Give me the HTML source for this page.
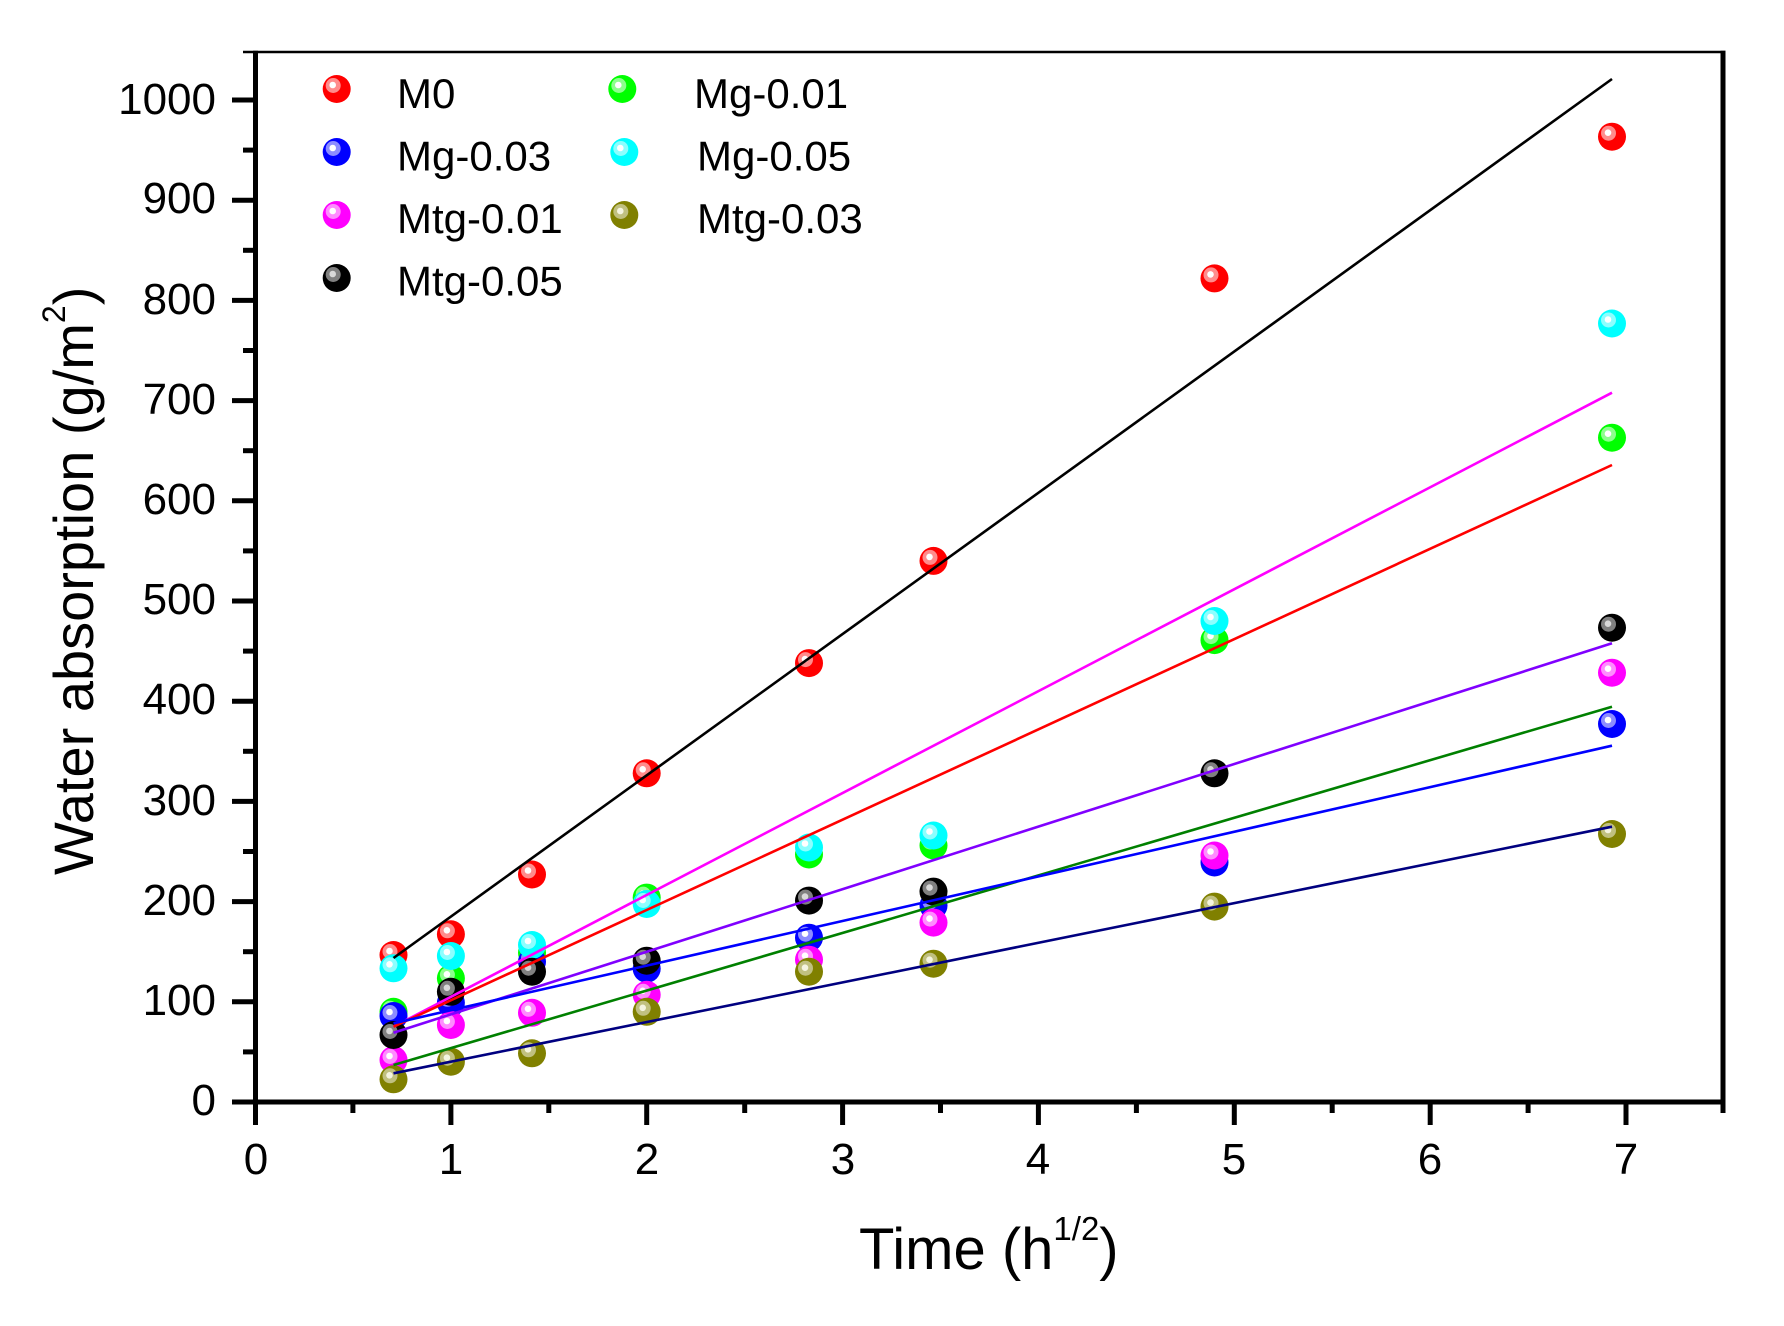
<!DOCTYPE html>
<html>
<head>
<meta charset="utf-8">
<style>
  html,body{margin:0;padding:0;background:#fff;}
  svg{display:block;}
  text{font-family:"Liberation Sans",Arial,sans-serif;fill:#000;}
</style>
</head>
<body>
<svg width="1784" height="1326" viewBox="0 0 1784 1326" xmlns="http://www.w3.org/2000/svg">
<defs>
  <g id="m-red"><circle r="14" fill="#ff0000"/><circle cx="-3.5" cy="-3.5" r="7.5" fill="#ff8c8c"/><circle cx="-4" cy="-4" r="3.3" fill="#ffffff"/></g>
  <g id="m-green"><circle r="14" fill="#00ff00"/><circle cx="-3.5" cy="-3.5" r="7.5" fill="#8cff8c"/><circle cx="-4" cy="-4" r="3.3" fill="#ffffff"/></g>
  <g id="m-blue"><circle r="14" fill="#0000ff"/><circle cx="-3.5" cy="-3.5" r="7.5" fill="#8c8cff"/><circle cx="-4" cy="-4" r="3.3" fill="#ffffff"/></g>
  <g id="m-cyan"><circle r="14" fill="#00ffff"/><circle cx="-3.5" cy="-3.5" r="7.5" fill="#8cffff"/><circle cx="-4" cy="-4" r="3.3" fill="#ffffff"/></g>
  <g id="m-mag"><circle r="14" fill="#ff00ff"/><circle cx="-3.5" cy="-3.5" r="7.5" fill="#ff8cff"/><circle cx="-4" cy="-4" r="3.3" fill="#ffffff"/></g>
  <g id="m-olive"><circle r="14" fill="#808000"/><circle cx="-3.5" cy="-3.5" r="7.5" fill="#c0c080"/><circle cx="-4" cy="-4" r="3.3" fill="#f4f4e0"/></g>
  <g id="m-black"><circle r="14" fill="#000000"/><circle cx="-3.5" cy="-3.5" r="7.5" fill="#808080"/><circle cx="-4" cy="-4" r="3.3" fill="#d8d8d8"/></g>
</defs>

<!-- Axes frame -->
<g stroke="#000" fill="none" stroke-linecap="butt">
  <line x1="243" y1="52" x2="1725.5" y2="52" stroke-width="2.5"/>
  <line x1="255.5" y1="50.8" x2="255.5" y2="1104.5" stroke-width="5"/>
  <line x1="253" y1="1102" x2="1725.5" y2="1102" stroke-width="5"/>
  <line x1="1723" y1="50.8" x2="1723" y2="1113" stroke-width="5"/>
  <g stroke-width="5">
    <line x1="232" y1="1102" x2="255" y2="1102"/>
    <line x1="232" y1="1001.8" x2="255" y2="1001.8"/>
    <line x1="232" y1="901.6" x2="255" y2="901.6"/>
    <line x1="232" y1="801.4" x2="255" y2="801.4"/>
    <line x1="232" y1="701.2" x2="255" y2="701.2"/>
    <line x1="232" y1="601" x2="255" y2="601"/>
    <line x1="232" y1="500.8" x2="255" y2="500.8"/>
    <line x1="232" y1="400.6" x2="255" y2="400.6"/>
    <line x1="232" y1="300.4" x2="255" y2="300.4"/>
    <line x1="232" y1="200.2" x2="255" y2="200.2"/>
    <line x1="232" y1="100" x2="255" y2="100"/>
  </g>
  <g stroke-width="5">
    <line x1="243" y1="1051.9" x2="255" y2="1051.9"/>
    <line x1="243" y1="951.7" x2="255" y2="951.7"/>
    <line x1="243" y1="851.5" x2="255" y2="851.5"/>
    <line x1="243" y1="751.3" x2="255" y2="751.3"/>
    <line x1="243" y1="651.1" x2="255" y2="651.1"/>
    <line x1="243" y1="550.9" x2="255" y2="550.9"/>
    <line x1="243" y1="450.7" x2="255" y2="450.7"/>
    <line x1="243" y1="350.5" x2="255" y2="350.5"/>
    <line x1="243" y1="250.3" x2="255" y2="250.3"/>
    <line x1="243" y1="150.1" x2="255" y2="150.1"/>
  </g>
  <g stroke-width="5">
    <line x1="255.5" y1="1102" x2="255.5" y2="1125"/>
    <line x1="450.9" y1="1102" x2="450.9" y2="1125"/>
    <line x1="646.7" y1="1102" x2="646.7" y2="1125"/>
    <line x1="842.6" y1="1102" x2="842.6" y2="1125"/>
    <line x1="1038.4" y1="1102" x2="1038.4" y2="1125"/>
    <line x1="1234.3" y1="1102" x2="1234.3" y2="1125"/>
    <line x1="1430.2" y1="1102" x2="1430.2" y2="1125"/>
    <line x1="1626" y1="1102" x2="1626" y2="1125"/>
  </g>
  <g stroke-width="5">
    <line x1="352.9" y1="1102" x2="352.9" y2="1113"/>
    <line x1="548.8" y1="1102" x2="548.8" y2="1113"/>
    <line x1="744.7" y1="1102" x2="744.7" y2="1113"/>
    <line x1="940.5" y1="1102" x2="940.5" y2="1113"/>
    <line x1="1136.4" y1="1102" x2="1136.4" y2="1113"/>
    <line x1="1332.2" y1="1102" x2="1332.2" y2="1113"/>
    <line x1="1528.1" y1="1102" x2="1528.1" y2="1113"/>
  </g>
</g>

<!-- Y tick labels -->
<g font-size="44" text-anchor="end">
  <text x="216" y="1115">0</text>
  <text x="216" y="1015">100</text>
  <text x="216" y="915">200</text>
  <text x="216" y="815">300</text>
  <text x="216" y="714">400</text>
  <text x="216" y="614">500</text>
  <text x="216" y="514">600</text>
  <text x="216" y="414">700</text>
  <text x="216" y="314">800</text>
  <text x="216" y="213">900</text>
  <text x="216" y="114">1000</text>
</g>
<!-- X tick labels -->
<g font-size="44" text-anchor="middle">
  <text x="256" y="1174">0</text>
  <text x="451" y="1174">1</text>
  <text x="647" y="1174">2</text>
  <text x="843" y="1174">3</text>
  <text x="1038" y="1174">4</text>
  <text x="1234" y="1174">5</text>
  <text x="1430" y="1174">6</text>
  <text x="1626" y="1174">7</text>
</g>

<!-- Axis titles -->
<text x="859" y="1269" font-size="58">Time (h<tspan font-size="33" dy="-29">1/2</tspan><tspan dy="29">)</tspan></text>
<text transform="translate(93,875) rotate(-90)" font-size="56">Water absorption (g/m<tspan font-size="32" dy="-28">2</tspan><tspan dy="28">)</tspan></text>

<!-- Data points -->
<g>
  <use href="#m-red" x="393.5" y="955.0"/>
  <use href="#m-red" x="450.9" y="934.3"/>
  <use href="#m-red" x="532.0" y="874.5"/>
  <use href="#m-red" x="646.7" y="773.3"/>
  <use href="#m-red" x="809.0" y="663.1"/>
  <use href="#m-red" x="933.5" y="560.9"/>
  <use href="#m-red" x="1214.5" y="278.4"/>
  <use href="#m-red" x="1612.0" y="136.7"/>
  <use href="#m-green" x="393.5" y="1011.8"/>
  <use href="#m-green" x="450.9" y="978.3"/>
  <use href="#m-green" x="532.0" y="952.7"/>
  <use href="#m-green" x="646.7" y="897.6"/>
  <use href="#m-green" x="809.0" y="854.5"/>
  <use href="#m-green" x="933.5" y="845.5"/>
  <use href="#m-green" x="1214.5" y="640.1"/>
  <use href="#m-green" x="1612.0" y="437.7"/>
  <use href="#m-blue" x="393.5" y="1016.0"/>
  <use href="#m-blue" x="450.9" y="1002.8"/>
  <use href="#m-blue" x="532.0" y="961.7"/>
  <use href="#m-blue" x="646.7" y="968.7"/>
  <use href="#m-blue" x="809.0" y="937.7"/>
  <use href="#m-blue" x="933.5" y="905.6"/>
  <use href="#m-blue" x="1214.5" y="862.5"/>
  <use href="#m-blue" x="1612.0" y="724.0"/>
  <use href="#m-cyan" x="393.5" y="968.3"/>
  <use href="#m-cyan" x="450.9" y="956.0"/>
  <use href="#m-cyan" x="532.0" y="945.0"/>
  <use href="#m-cyan" x="646.7" y="904.0"/>
  <use href="#m-cyan" x="809.0" y="847.5"/>
  <use href="#m-cyan" x="933.5" y="835.5"/>
  <use href="#m-cyan" x="1214.5" y="621.0"/>
  <use href="#m-cyan" x="1612.0" y="323.5"/>
  <use href="#m-mag" x="393.5" y="1060.0"/>
  <use href="#m-mag" x="450.9" y="1025.0"/>
  <use href="#m-mag" x="532.0" y="1012.8"/>
  <use href="#m-mag" x="646.7" y="994.8"/>
  <use href="#m-mag" x="809.0" y="959.7"/>
  <use href="#m-mag" x="933.5" y="922.6"/>
  <use href="#m-mag" x="1214.5" y="855.5"/>
  <use href="#m-mag" x="1612.0" y="672.7"/>
  <use href="#m-olive" x="393.5" y="1079.3"/>
  <use href="#m-olive" x="450.9" y="1061.7"/>
  <use href="#m-olive" x="532.0" y="1053.3"/>
  <use href="#m-olive" x="646.7" y="1011.8"/>
  <use href="#m-olive" x="809.0" y="971.7"/>
  <use href="#m-olive" x="933.5" y="963.7"/>
  <use href="#m-olive" x="1214.5" y="906.6"/>
  <use href="#m-olive" x="1612.0" y="834.0"/>
  <use href="#m-black" x="393.5" y="1035.0"/>
  <use href="#m-black" x="450.9" y="991.8"/>
  <use href="#m-black" x="532.0" y="971.7"/>
  <use href="#m-black" x="646.7" y="960.7"/>
  <use href="#m-black" x="809.0" y="900.6"/>
  <use href="#m-black" x="933.5" y="891.6"/>
  <use href="#m-black" x="1214.5" y="773.3"/>
  <use href="#m-black" x="1612.0" y="627.7"/>
</g>

<!-- Fit lines -->
<g stroke-width="2.6" fill="none" stroke-linecap="butt">
  <line x1="393.5" y1="958" x2="1612" y2="79" stroke="#000000"/>
  <line x1="393.5" y1="1026.7" x2="1612" y2="392.7" stroke="#ff00ff"/>
  <line x1="393.5" y1="1026.7" x2="1612" y2="465" stroke="#ff0000"/>
  <line x1="393.5" y1="1032.7" x2="1612" y2="643.3" stroke="#8000ff"/>
  <line x1="393.5" y1="1065" x2="1612" y2="706.7" stroke="#008000"/>
  <line x1="393.5" y1="1023.3" x2="1612" y2="745.7" stroke="#0000ff"/>
  <line x1="393.5" y1="1073.3" x2="1612" y2="826.7" stroke="#000080"/>
</g>

<!-- Legend -->
<g>
  <use href="#m-red" x="336.7" y="89"/>
  <use href="#m-blue" x="336.7" y="152"/>
  <use href="#m-mag" x="336.7" y="215"/>
  <use href="#m-black" x="336.7" y="278"/>
  <use href="#m-green" x="622.3" y="89"/>
  <use href="#m-cyan" x="624.3" y="152"/>
  <use href="#m-olive" x="624.3" y="215"/>
</g>
<g font-size="42">
  <text x="397" y="108">M0</text>
  <text x="397" y="170.5">Mg-0.03</text>
  <text x="397" y="233">Mtg-0.01</text>
  <text x="397" y="295.5">Mtg-0.05</text>
  <text x="694" y="108">Mg-0.01</text>
  <text x="697" y="170.5">Mg-0.05</text>
  <text x="697" y="233">Mtg-0.03</text>
</g>
</svg>
</body>
</html>
